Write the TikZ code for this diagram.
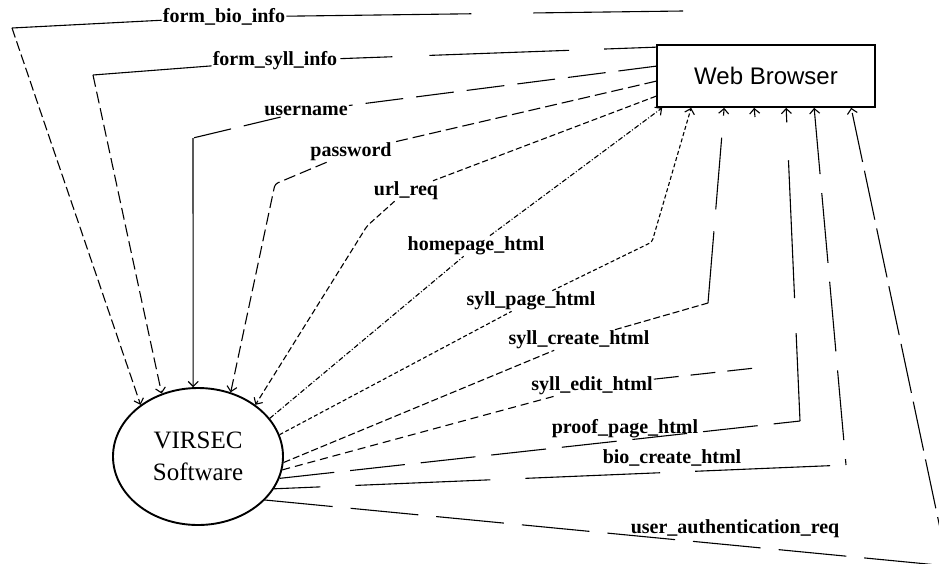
\documentclass[tikz,border=0pt]{standalone}
\usepackage{fontspec}
\setmainfont{Liberation Serif}
\newfontfamily\boxfont{Liberation Sans}
\usetikzlibrary{shapes.geometric,arrows.meta,calc}
\begin{document}
\begin{tikzpicture}[x=1pt,y=-1pt,
  lbl/.style={font=\fontsize{20}{24}\selectfont\bfseries, inner sep=1pt},
  ln/.style={line width=1.1pt, line cap=butt},
  arr/.style={-{Straight Barb[length=5pt,width=10pt]}},
  rc/.style={rounded corners=3pt}]
\useasboundingbox (0,0) rectangle (939,563);

% main nodes
\node[draw, line width=1.7pt, minimum width=218pt, minimum height=62pt, inner sep=0pt,
      font=\boxfont\fontsize{24}{28}\selectfont] (W) at (766,76) {Web Browser};
\node[ellipse, draw, line width=1.9pt, minimum width=170pt, minimum height=137pt, inner sep=0pt,
      align=center, font=\fontsize{25}{32}\selectfont] (V) at (198,456.5) {VIRSEC\\Software};

% labels
\node[lbl] (L1) at (224,17) {form\_bio\_info};
\node[lbl] (L2) at (275,61) {form\_syll\_info};
\node[lbl] (L3) at (306,111) {username};
\node[lbl] (L4) at (351,152) {password};
\node[lbl] (L5) at (406,191) {url\_req};
\node[lbl] (L6) at (476,246) {homepage\_html};
\node[lbl] (L7) at (531,301) {syll\_page\_html};
\node[lbl] (L8) at (579,340) {syll\_create\_html};
\node[lbl] (L9) at (592,386) {syll\_edit\_html};
\node[lbl] (L10) at (625,429) {proof\_page\_html};
\node[lbl] (L11) at (672,458) {bio\_create\_html};
\node[lbl] (L12) at (735,529) {user\_authentication\_req};

% bend points
\coordinate (fb0) at (683,11);
\coordinate (fb1) at (12,28);
\coordinate (fs1) at (93,75);
\coordinate (un1) at (193,138);
\coordinate (pw1) at (275,184);
\coordinate (ur1) at (367,226);
\coordinate (sp1) at (652,242);
\coordinate (sc1) at (708,303);
\coordinate (se1) at (755,368);
\coordinate (se2) at (755,117);
\coordinate (pp1) at (800,421);
\coordinate (bc1) at (846,465);
\coordinate (ua1) at (948,566);

% points on the browser box
\coordinate (w1) at ($(W.north west)+(0,3)$);
\coordinate (w2) at ($(W.north west)+(0,22)$);
\coordinate (w3) at ($(W.north west)+(0,37)$);
\coordinate (w4) at ($(W.north west)+(0,52)$);
\coordinate (b1) at ($(W.south west)+(6,0)$);
\coordinate (b2) at ($(W.south west)+(35,0)$);
\coordinate (b3) at ($(W.south west)+(68,0)$);
\coordinate (b4) at ($(W.south west)+(98,0)$);
\coordinate (b5) at ($(W.south west)+(130,0)$);
\coordinate (b6) at ($(W.south west)+(158,0)$);
\coordinate (b7) at ($(W.south west)+(195,0)$);

% form_bio_info
\draw[ln, dash pattern=on 185pt off 62pt] (L1) -- (fb0);
\draw[ln] (L1) -- (fb1);
\draw[ln, arr, dash pattern=on 10pt off 4pt] (fb1) -- (V.138);

% form_syll_info
\draw[ln, dash pattern=on 52pt off 35pt on 140pt off 37pt] (w1) -- (L2);
\draw[ln] (L2) -- (fs1);
\draw[ln, arr, dash pattern=on 12pt off 5pt] (fs1) -- (V.120);

% username
\draw[ln, dash pattern=on 38pt off 13pt] (w2) -- (L3) -- (un1);
\draw[ln, arr] (un1) -- (V.94);

% password
\draw[ln, rc, arr, dash pattern=on 12pt off 5pt] (w3) -- (L4) -- (pw1) -- (V.63);

% url_req
\draw[ln, rc, arr, dash pattern=on 6pt off 3pt] (w4) -- (L5) -- (ur1) -- (V.42);

% homepage_html
\draw[ln, arr, dash pattern=on 5pt off 2pt on 1pt off 2pt] (V.28) -- (L6) -- (b1);

% syll_page_html
\draw[ln, rc, arr, dash pattern=on 4pt off 2.5pt] (V.15) -- (L7) -- (sp1) -- (b2);

% syll_create_html
\draw[ln, dash pattern=on 7pt off 3pt] (V.-4) -- (L8) -- (sc1);
\draw[ln, arr, dash pattern=on 72pt off 22pt] (sc1) -- (b3);

% syll_edit_html
\draw[ln, dash pattern=on 8pt off 5pt] (V.-9) -- (L9);
\draw[ln, dash pattern=on 25pt off 12pt] (L9) -- (se1);
\draw[ln, arr] (se2) -- (b4);

% proof_page_html
\draw[ln, dash pattern=on 55pt off 16pt] (V.-15) -- (pp1);
\draw[ln, arr, dash pattern=on 88pt off 35pt on 138pt off 38pt] (pp1) -- (b5);

% bio_create_html
\draw[ln, dash pattern=on 135pt off 35pt, dash phase=154pt] (bc1) -- (V.-23);
\draw[ln, arr, dash pattern=on 70pt off 19pt, dash phase=64pt] (bc1) -- (b6);

% user_authentication_req
\draw[ln, dash pattern=on 68pt off 18pt] (V.-33) -- (ua1);
\draw[ln, arr, dash pattern=on 50pt off 9pt] (ua1) -- (b7);
\end{tikzpicture}
\end{document}
